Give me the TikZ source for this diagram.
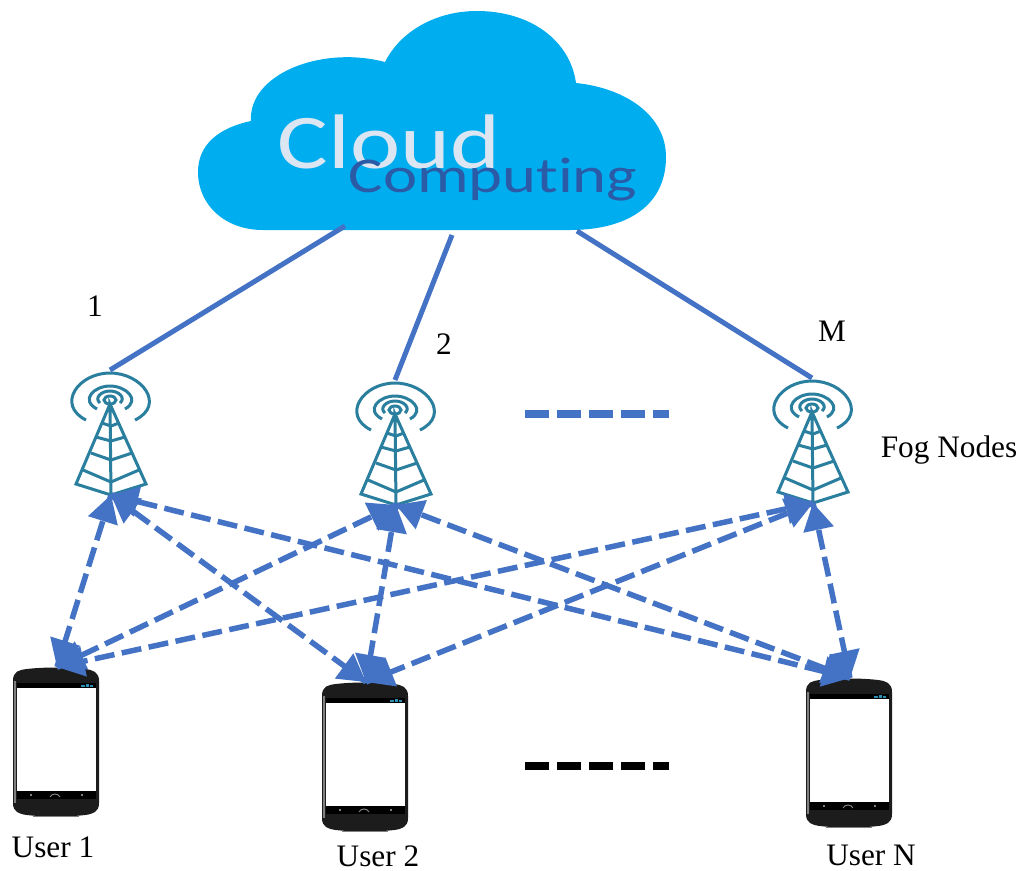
\documentclass[tikz,border=0pt]{standalone}
\usepackage{fontspec}
\usepackage{tikz}
\usetikzlibrary{arrows}
\usetikzlibrary{decorations.markings}
\setmainfont{Liberation Serif}
\newfontfamily\cloudfont[Ligatures=NoCommon]{Carlito}
\definecolor{mblue}{HTML}{4472C4}
\definecolor{cblue}{HTML}{00AEEF}
\definecolor{cwhite}{HTML}{DCE6F2}
\definecolor{cdark}{HTML}{2B5BA6}
\definecolor{mteal}{HTML}{2A7F9F}
\definecolor{mbody}{HTML}{1C1C1C}
\definecolor{msignal}{HTML}{2E8FB5}
\tikzset{uplink/.style = {mblue, line width=0.1cm},
         gapdash/.style = {line width=0.16cm, dash pattern=on 0.48cm off 0.16cm},
         label/.style = {font=\fontsize{17.8}{20}\selectfont, inner sep=0},
         biarrow/.style = {mblue, line width=0.11cm, dash pattern=on 0.4cm off 0.15cm,
                           decoration={markings,
                                       mark=at position 0 with {\arrowreversed[scale=1.05]{triangle 60}},
                                       mark=at position 1 with {\arrow[scale=1.05]{triangle 60}}},
                           postaction={decorate}},
         towerpic/.pic = {
             \coordinate (-top) at (0, -30);
             \coordinate (-base) at (1, 95);
             \begin{scope}[mteal, line width=0.06cm]
                 \draw (0, 0) ellipse [x radius=6, y radius=4];
                 \draw (-10, 3) .. controls (-16, -2) and (-9, -9) .. (0, -9)
                       .. controls (9, -9) and (16, -2) .. (10, 3);
                 \draw (-13, 9) .. controls (-30, 0) and (-16, -14) .. (0, -14)
                       .. controls (16, -14) and (31, 0) .. (15, 9);
                 \draw (-24, 20) .. controls (-54, 5) and (-32, -27) .. (0, -27)
                       .. controls (32, -27) and (56, 5) .. (25, 20);
                 \draw (0, 4) -- (-34, 84) -- (1, 95) -- (36, 84) -- (0, 4) -- (1, 95);
                 \draw (-27, 70) -- (1, 82) -- (29, 70);
                 \draw (-19, 53) -- (1, 60) -- (22, 53);
                 \draw (-14, 37) -- (1, 41) -- (15, 37);
                 \draw (-8, 23) -- (1, 26) -- (9, 23);
             \end{scope}
         },
         phonepic/.pic = {
             \coordinate (-top) at (44, 0);
             \fill [mbody] (0, 14) .. controls (0, 4) and (6, 3) .. (14, 2)
                 .. controls (30, 0) and (56, 0) .. (72, 2)
                 .. controls (80, 3) and (86, 5) .. (86, 14) -- (86, 136)
                 .. controls (86, 145) and (80, 147) .. (72, 148)
                 .. controls (56, 150) and (30, 150) .. (14, 148)
                 .. controls (6, 147) and (0, 145) .. (0, 136) -- cycle;
             \draw [gray, line width=0.03cm] (2, 14) -- (2, 136);
             \draw [gray, line width=0.02cm] (20, 149) -- (66, 149);
             \fill [black] (4, 16) rectangle (83, 132);
             \fill [white] (4, 21) rectangle (83, 124);
             \fill [msignal] (68, 18) rectangle (72, 20);
             \fill [msignal] (73, 16.5) rectangle (76, 20);
             \fill [msignal] (77, 18) rectangle (80, 20);
             \draw [gray, line width=0.02cm] (37, 130) .. controls (39, 126) and (45, 126) .. (47, 130);
             \fill [gray] (17, 127) rectangle (19, 129);
             \fill [gray] (68, 127) rectangle (70, 129);
         }}

\begin{document}
\begin{tikzpicture}[x=0.02cm, y=-0.02cm]
    \useasboundingbox [fill=white] (0, 0) rectangle (1022, 870);

    % cloud
    \fill [cblue] (263, 230) -- (570, 230)
        .. controls (628, 230) and (666, 205) .. (666, 157)
        .. controls (666, 115) and (625, 88) .. (576, 83)
        .. controls (570, 40) and (530, 11) .. (477, 11)
        .. controls (435, 11) and (400, 32) .. (385, 62)
        .. controls (320, 45) and (248, 75) .. (251, 121)
        .. controls (218, 128) and (198, 145) .. (198, 172)
        .. controls (198, 205) and (225, 230) .. (263, 230) -- cycle;
    \node (cloudtxt) [anchor=base, transform shape, xscale=1.23, inner sep=0, cwhite,
                      font=\cloudfont\fontsize{44}{44}\selectfont] at (389, 168) {Cloud};
    \node (comptxt) [anchor=base, transform shape, xscale=1.29, inner sep=0, cdark,
                     font=\cloudfont\fontsize{28.5}{30}\selectfont] at (493, 192) {Computing};
    \coordinate (cloud1) at (345, 226);
    \coordinate (cloud2) at (452, 235);
    \coordinate (cloud3) at (577, 231);

    \pic (fog1) at (110, 400) {towerpic};
    \pic (fog2) at (395, 410) {towerpic};
    \pic (fog3) at (812, 408) {towerpic};

    \pic (user1) at (13, 667) {phonepic};
    \pic (user2) at (322, 682) {phonepic};
    \pic (user3) at (806, 678) {phonepic};

    \draw [uplink] (cloud1) -- (fog1-top);
    \draw [uplink] (cloud2) -- (fog2-top);
    \draw [uplink] (cloud3) -- (fog3-top);

    \draw [biarrow] (fog1-base) -- (user1-top);
    \draw [biarrow] (fog1-base) -- (user2-top);
    \draw [biarrow] (fog1-base) -- (user3-top);
    \draw [biarrow] (fog2-base) -- (user1-top);
    \draw [biarrow] (fog2-base) -- (user2-top);
    \draw [biarrow] (fog2-base) -- (user3-top);
    \draw [biarrow] (fog3-base) -- (user1-top);
    \draw [biarrow] (fog3-base) -- (user2-top);
    \draw [biarrow] (fog3-base) -- (user3-top);

    \coordinate (fogdotsA) at (525, 414);
    \coordinate (fogdotsB) at (669, 414);
    \coordinate (userdotsA) at (525, 766);
    \coordinate (userdotsB) at (669, 766);
    \draw [mblue, gapdash] (fogdotsA) -- (fogdotsB);
    \draw [black, gapdash] (userdotsA) -- (userdotsB);

    \node (num1) [label] at (95, 306) {1};
    \node (num2) [label] at (444, 344) {2};
    \node (numM) [label] at (832, 331) {M};
    \node (fogtxt) [label] at (949, 450) {Fog Nodes};
    \node (usertxt1) [label] at (53, 847) {User 1};
    \node (usertxt2) [label] at (378, 856) {User 2};
    \node (usertxt3) [label] at (871, 855) {User N};
\end{tikzpicture}
\end{document}
